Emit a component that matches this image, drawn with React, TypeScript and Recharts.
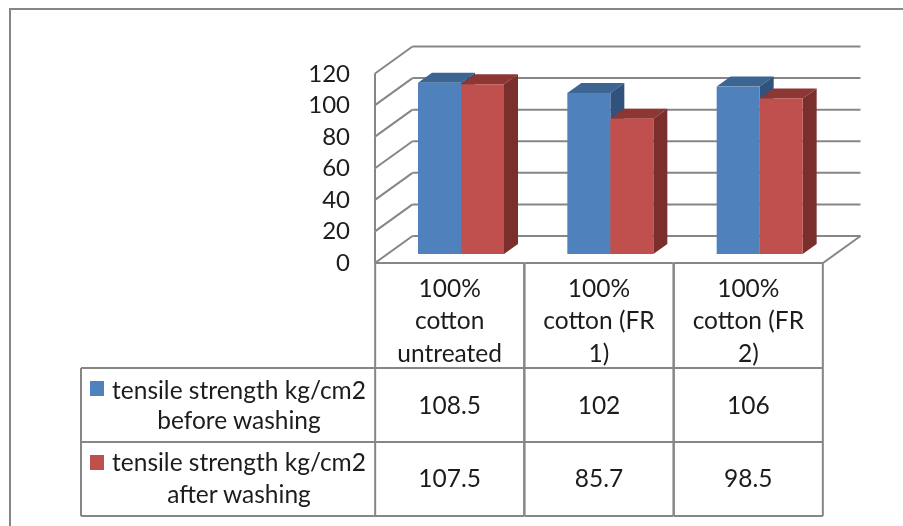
import React from "react";
import { BarChart, Bar, XAxis, YAxis, CartesianGrid } from "recharts";

const categories = ["100% cotton untreated", "100% cotton (FR 1)", "100% cotton (FR 2)"];
const categoryLines = [
  ["100%", "cotton", "untreated"],
  ["100%", "cotton (FR", "1)"],
  ["100%", "cotton (FR", "2)"],
];
const beforeWashing = [108.5, 102, 106];
const afterWashing = [107.5, 85.7, 98.5];
const beforeLabel = ["tensile strength kg/cm2", "before washing"];
const afterLabel = ["tensile strength kg/cm2", "after washing"];
const yTicks = [0, 20, 40, 60, 80, 100, 120];

const data = categories.map((name, i) => ({ name, before: beforeWashing[i], after: afterWashing[i] }));

const FONT = "Lato, 'Open Sans', sans-serif";
const GRID = "#868686";
const TEXT = "#1c1c1c";
const BLUE = { front: "#4f81bd", top: "#3c6592", side: "#30527c" };
const RED = { front: "#c0504d", top: "#8e3633", side: "#7a2f2d" };

const TICK_STEP = 189.5 / 6;
const FRONT_DX = -11; // bar plane to front wall
const FRONT_DY = 9;
const BACK_DX = 26.5; // bar plane to back wall
const BACK_DY = -18;

function GridLine(props: any) {
  const { x1, x2, y1, index } = props;
  const fx = x1 + FRONT_DX;
  const fy = y1 + FRONT_DY;
  const bx = x1 + BACK_DX;
  const by = y1 + BACK_DY;
  const ex = x2 + BACK_DX;
  const isBase = Math.abs(y1 - 254) < 1;
  const isTop = y1 < 70;
  return (
    <g key={index} stroke={GRID} strokeWidth={2} fill="none">
      <line x1={bx} y1={by} x2={ex} y2={by} />
      <line x1={fx} y1={fy} x2={bx} y2={by} />
      {!isTop && <line x1={fx} y1={fy} x2={fx} y2={fy - TICK_STEP} />}
      {isBase && <line x1={x2 + FRONT_DX} y1={fy} x2={ex} y2={by} />}
    </g>
  );
}

function YTick(props: any) {
  const { y, payload } = props;
  return (
    <text x={350} y={y + FRONT_DY + 8} textAnchor="end" fontFamily={FONT} fontSize={24} fill={TEXT}>
      {payload.value}
    </text>
  );
}

function centerText(lines: string[], cx: number, ys: number[]) {
  return lines.map((t, i) => (
    <text key={i} x={cx} y={ys[i]} textAnchor="middle" fontFamily={FONT} fontSize={24.5} fill={TEXT}>
      {t}
    </text>
  ));
}

function TableColumn(props: any) {
  const { x, index } = props;
  const cx = x + FRONT_DX;
  const half = 74.5;
  const lineProps = { stroke: GRID, strokeWidth: 2 };
  return (
    <g>
      {/* column borders */}
      <line x1={cx - half} y1={263} x2={cx - half} y2={516} {...lineProps} />
      <line x1={cx + half} y1={263} x2={cx + half} y2={516} {...lineProps} />
      <line x1={cx - half} y1={263} x2={cx + half} y2={263} {...lineProps} />
      <line x1={cx - half} y1={368} x2={cx + half} y2={368} {...lineProps} />
      <line x1={cx - half} y1={442} x2={cx + half} y2={442} {...lineProps} />
      <line x1={cx - half} y1={516} x2={cx + half} y2={516} {...lineProps} />
      {centerText(categoryLines[index], cx, [297, 329, 362])}
      {centerText([String(beforeWashing[index])], cx, [414])}
      {centerText([String(afterWashing[index])], cx, [487])}
      {index === 0 && (
        <g>
          <line x1={81} y1={368} x2={376} y2={368} {...lineProps} />
          <line x1={81} y1={442} x2={376} y2={442} {...lineProps} />
          <line x1={81} y1={516} x2={376} y2={516} {...lineProps} />
          <line x1={81} y1={368} x2={81} y2={516} {...lineProps} />
          <rect x={90} y={381} width={14} height={15} fill={BLUE.front} />
          <rect x={90} y={455} width={14} height={15} fill={RED.front} />
          {centerText([beforeLabel[0]], 239, [399])}
          {centerText([beforeLabel[1]], 239, [429])}
          {centerText([afterLabel[0]], 239, [471])}
          {centerText([afterLabel[1]], 239, [503])}
        </g>
      )}
    </g>
  );
}

function Bar3D(props: any) {
  const { x, y, width, height, palette } = props;
  const dx = 14;
  const dy = -10;
  const r = x + width;
  const b = y + height;
  return (
    <g>
      <polygon points={`${x},${y} ${x + dx},${y + dy} ${r + dx},${y + dy} ${r},${y}`} fill={palette.top} />
      <polygon points={`${r},${y} ${r + dx},${y + dy} ${r + dx},${b + dy} ${r},${b}`} fill={palette.side} />
      <rect x={x} y={y} width={width} height={height} fill={palette.front} />
    </g>
  );
}

export default function App() {
  return (
    <div style={{ position: "fixed", left: 0, top: 0, width: 903, height: 526, overflow: "hidden", background: "#fff" }}>
      <div style={{ position: "absolute", left: 9, top: 8, width: 900, height: 530, borderLeft: "2px solid #868686", borderTop: "2px solid #868686" }} />
      <div style={{ position: "absolute", left: 0, top: 0, filter: "blur(0.4px)" }}>
        <BarChart
          width={903}
          height={526}
          data={data}
          margin={{ top: 64.5, right: 69, bottom: 0, left: 336 }}
          barSize={43}
          barGap={0}
        >
          <CartesianGrid horizontal={GridLine as any} vertical={false} />
          <XAxis dataKey="name" height={272} axisLine={false} tickLine={false} interval={0} tick={TableColumn as any} />
          <YAxis width={50} domain={[0, 120]} ticks={yTicks} axisLine={false} tickLine={false} interval={0} tick={YTick as any} />
          <Bar dataKey="before" isAnimationActive={false} shape={(p: any) => <Bar3D {...p} palette={BLUE} />} />
          <Bar dataKey="after" isAnimationActive={false} shape={(p: any) => <Bar3D {...p} palette={RED} />} />
        </BarChart>
      </div>
    </div>
  );
}
